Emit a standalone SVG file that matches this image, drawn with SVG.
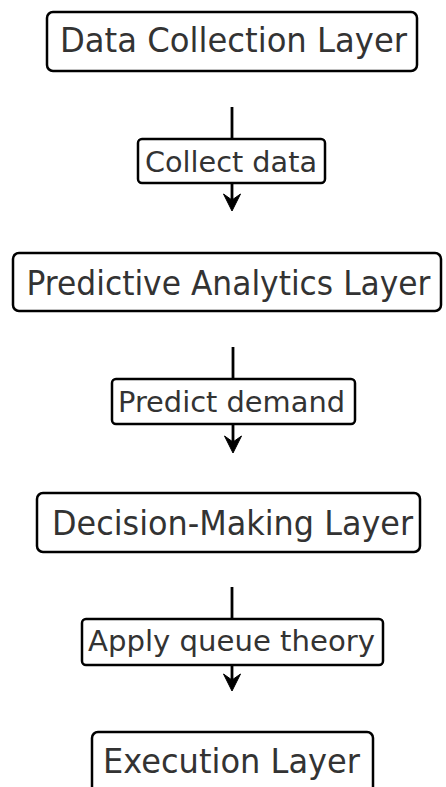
<svg xmlns="http://www.w3.org/2000/svg" width="446" height="787" viewBox="0 0 446 787">
<defs>
<style>
.box{fill:#fff;stroke:#000;stroke-width:2.5}
.t{font-family:"DejaVu Sans",sans-serif;fill:#333;text-anchor:middle}
.big{font-size:33px}
.sm{font-size:29px}
.ln{stroke:#000;stroke-width:2.8;fill:none}
.ah{fill:#000;stroke:#000;stroke-width:1;stroke-linejoin:round}
</style>
</defs>
<rect width="446" height="787" fill="#fff"/>
<g id="connectors">
<line class="ln" x1="232" y1="107" x2="232" y2="203"/>
<path class="ah" d="M232,211 L223.5,194 L232,200 L240.5,194 Z"/>
<line class="ln" x1="233" y1="347" x2="233" y2="445"/>
<path class="ah" d="M233,453 L224.5,436 L233,442 L241.5,436 Z"/>
<line class="ln" x1="232" y1="587" x2="232" y2="683"/>
<path class="ah" d="M232,691 L223.5,674 L232,680 L240.5,674 Z"/>
</g>
<g id="label1">
<rect class="box" x="138" y="139" width="187" height="44" rx="4"/>
<text class="t sm" x="231" y="172" textLength="172" lengthAdjust="spacingAndGlyphs">Collect data</text>
</g>
<g id="label2">
<rect class="box" x="112" y="379" width="243" height="45" rx="4"/>
<text class="t sm" x="231.5" y="412" textLength="227" lengthAdjust="spacingAndGlyphs">Predict demand</text>
</g>
<g id="label3">
<rect class="box" x="82" y="619" width="301" height="46" rx="4"/>
<text class="t sm" x="231.5" y="651" textLength="287" lengthAdjust="spacingAndGlyphs">Apply queue theory</text>
</g>
<g id="data-collection">
<rect class="box" x="47" y="12" width="370" height="59" rx="6"/>
<text class="t big" x="233.5" y="52" textLength="347" lengthAdjust="spacingAndGlyphs">Data Collection Layer</text>
</g>
<g id="predictive-analytics">
<rect class="box" x="13" y="253" width="428" height="58" rx="6"/>
<text class="t big" x="228.5" y="295" textLength="404" lengthAdjust="spacingAndGlyphs">Predictive Analytics Layer</text>
</g>
<g id="decision-making">
<rect class="box" x="37" y="493" width="383" height="59" rx="6"/>
<text class="t big" x="232.5" y="535" textLength="361" lengthAdjust="spacingAndGlyphs">Decision-Making Layer</text>
</g>
<g id="execution">
<rect class="box" x="92" y="732" width="281" height="62" rx="6"/>
<text class="t big" x="231.5" y="773" textLength="257" lengthAdjust="spacingAndGlyphs">Execution Layer</text>
</g>
</svg>
